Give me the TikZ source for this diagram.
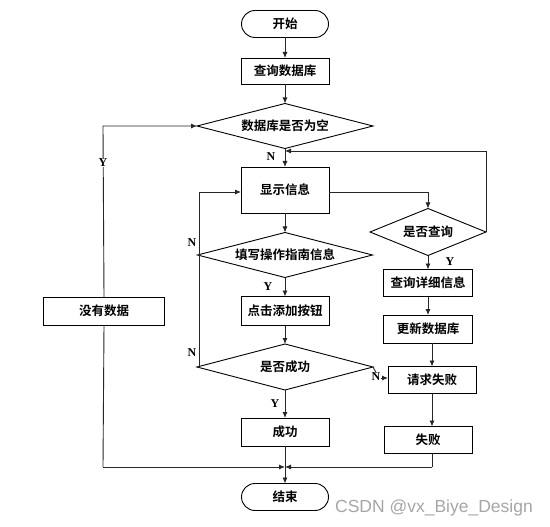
\documentclass[tikz,border=0pt]{standalone}
\usepackage{fontspec}
\usetikzlibrary{shapes.geometric,arrows.meta}
\newfontfamily\cjk{Noto Sans CJK SC}[BoldFont={Noto Sans CJK SC Bold}]
\newfontfamily\labfont{Liberation Serif}
\newfontfamily\wmfont{Liberation Sans}
\begin{document}
\begin{tikzpicture}[x=1pt,y=-1pt,
  every node/.style={inner sep=0pt, outer sep=0pt},
  txt/.style={font=\cjk\bfseries\fontsize{12.5}{14}\selectfont},
  procbox/.style={txt, draw, line width=0.9pt, rectangle, minimum width=#1, minimum height=28pt},
  procbox/.default=88pt,
  termbox/.style={txt, draw, line width=0.9pt, rectangle, rounded corners=13.5pt, minimum width=87pt, minimum height=27pt},
  decbox/.style={txt, draw, line width=0.9pt, diamond, aspect=4, minimum width=#1, minimum height=45pt},
  decbox/.default=176pt,
  yn/.style={font=\labfont\bfseries\fontsize{12}{12}\selectfont, fill=white, inner sep=0.5pt},
  conn/.style={line width=0.9pt, draw=black!85},
  arr/.style={conn, -{Latex[length=6pt,width=5pt]}}
]
\useasboundingbox (0,0) rectangle (550,527);
\fill[white] (0,0) rectangle (550,527);

% nodes
\node[termbox] (start) at (285,24) {开始};
\node[procbox, minimum height=26pt] (q) at (285,71) {查询数据库};
\node[decbox] (d1) at (285,126) {数据库是否为空};
\node[procbox, minimum height=46pt] (disp) at (285,190) {显示信息};
\node[decbox=175pt] (d2) at (285,255) {填写操作指南信息};
\node[procbox, minimum height=29pt] (click) at (285,311) {点击添加按钮};
\node[decbox, minimum height=46pt] (d3) at (285,367) {是否成功};
\node[procbox] (succ) at (285,432) {成功};
\node[termbox] (end) at (285,497) {结束};

\node[decbox=116pt, minimum height=47pt] (dq) at (428,232) {是否查询};
\node[procbox=89pt, minimum height=27pt] (detail) at (428,283) {查询详细信息};
\node[procbox=89pt] (upd) at (428,329) {更新数据库};
\node[procbox, minimum height=27pt] (reqf) at (432,380) {请求失败};
\node[procbox, minimum height=27pt] (fail) at (428,440) {失败};

\node[procbox=121pt] (nodata) at (104,311) {没有数据};

% helper coordinates
\coordinate (ret) at (486,151);
\coordinate (lft) at (199,192);
\coordinate (mrg) at (285,467);
\coordinate (nleft) at (103,126);
\coordinate (nbot) at (103,467);
\coordinate (fbot) at (432,467);
\coordinate (nin) at (379,378);

% main column
\draw[arr] (start) -- (q);
\draw[arr] (q) -- (d1);
\draw[arr] (d1) -- (disp);
\draw[arr] (disp) -- (d2);
\draw[arr] (d2) -- (click);
\draw[arr] (click) -- (d3);
\draw[arr] (d3) -- (succ);
\draw[arr] (succ) -- (end);

% right branch
\draw[arr] (disp.east |- lft) -| (dq.north);
\draw[arr] (dq) -- (detail);
\draw[arr] (detail) -- (upd);
\draw[arr] (reqf.north |- upd.south) -- (reqf.north);
\draw[arr] (reqf.south) -- (reqf.south |- fail.north);
\draw[arr] (dq.east) -- (ret) -- (285,151);
\draw[conn] (d3.east) -- (nin);
\draw[arr] (nin) -- (nin -| reqf.west);

% left loop
\draw[conn] (d3.west) -- (199,367);
\draw[conn] (d2.west) -- (199,255);
\draw[arr] (199,367) -- (lft) -- (lft -| disp.west);

% no data branch
\draw[arr] (nodata.north) -- (nleft) -- (d1.west);
\draw[conn] (nodata.south) -- (nbot);
\draw[arr] (nbot) -- (mrg);
\draw[conn] (fail.south -| fbot) -- (fbot);
\draw[arr] (fbot) -- (mrg);

% labels
\node[yn] at (271,157) {N};
\node[yn] at (103,163) {Y};
\node[yn] at (192,243) {N};
\node[yn] at (268,287) {Y};
\node[yn] at (192,353) {N};
\node[yn] at (275,404) {Y};
\node[yn] at (450,262) {Y};
\node[yn] at (376,377) {N};

% watermark
\node[font=\wmfont\fontsize{17.5}{18}\selectfont, text=black!35] (wm) at (434,508) {CSDN @vx\_Biye\_Design};
\end{tikzpicture}
\end{document}
